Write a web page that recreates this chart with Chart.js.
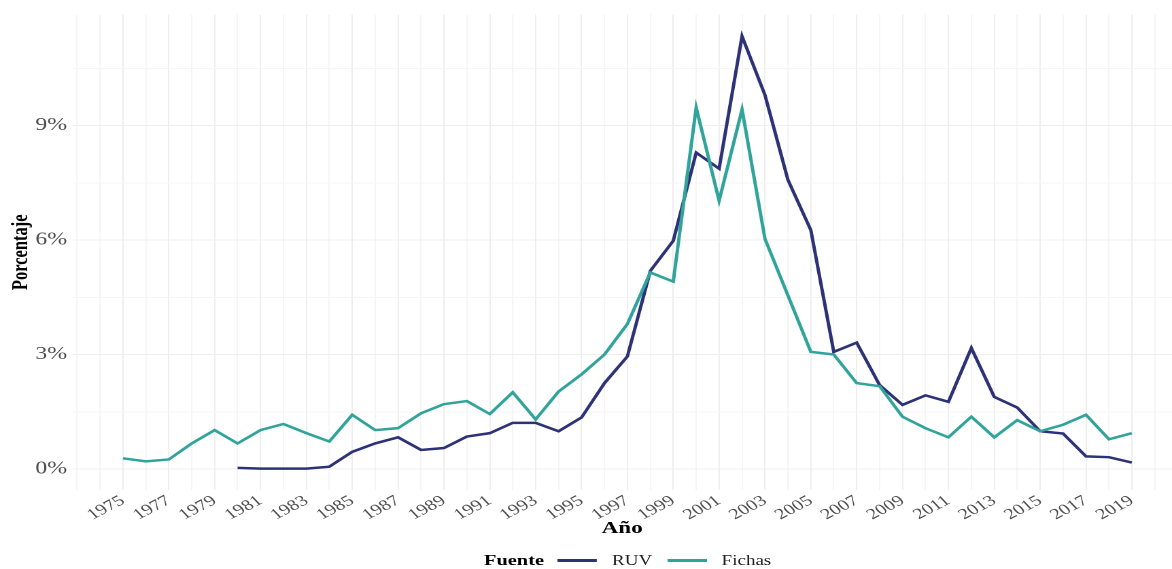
<!DOCTYPE html>
<html lang="es">
<head>
<meta charset="utf-8">
<title>Porcentaje por año</title>
<script src="https://cdn.jsdelivr.net/npm/chart.js@4.4.1/dist/chart.umd.min.js"></script>
<style>
  html, body { margin: 0; padding: 0; background: #fff; overflow: hidden; }
  /* the reference is wider than tall in its text, so the chart is drawn narrow and stretched */
  #wrap { position: relative; width: 862px; height: 569px; transform: scaleX(1.3596); transform-origin: 0 0; }
  #leyenda { position: absolute; left: 356px; top: 552px; display: flex; align-items: center;
             font-family: "Liberation Serif", serif; font-size: 14px; color: #222; white-space: nowrap; }
  #leyenda b { font-size: 15px; color: #000; margin-right: 10px; }
  #leyenda .key { display: inline-block; width: 29px; height: 3px; margin-right: 11px; }
  #leyenda .lab { margin-right: 11px; }
</style>
</head>
<body>
<div id="wrap">
  <canvas id="grafico" width="862" height="569"></canvas>
  <div id="leyenda">
    <b>Fuente</b>
    <span class="key" style="background:#2d3175"></span><span class="lab">RUV</span>
    <span class="key" style="background:#30a39b"></span><span class="lab">Fichas</span>
  </div>
</div>
<script>
// --- DATOS ---
const years = [1975, 1976, 1977, 1978, 1979, 1980, 1981, 1982, 1983, 1984,
               1985, 1986, 1987, 1988, 1989, 1990, 1991, 1992, 1993, 1994,
               1995, 1996, 1997, 1998, 1999, 2000, 2001, 2002, 2003, 2004,
               2005, 2006, 2007, 2008, 2009, 2010, 2011, 2012, 2013, 2014,
               2015, 2016, 2017, 2018, 2019];

const ruv = [null, null, null, null, null, 0.03, 0.01, 0.01, 0.01, 0.06,
             0.45, 0.67, 0.83, 0.50, 0.55, 0.85, 0.94, 1.21, 1.21, 0.99,
             1.35, 2.25, 2.95, 5.19, 5.98, 8.29, 7.87, 11.34, 9.80, 7.58,
             6.26, 3.07, 3.31, 2.20, 1.68, 1.93, 1.76, 3.17, 1.89, 1.61,
             0.99, 0.93, 0.33, 0.31, 0.17];

const fichas = [0.28, 0.20, 0.25, 0.67, 1.02, 0.67, 1.02, 1.18, 0.94, 0.72,
                1.42, 1.02, 1.07, 1.46, 1.70, 1.78, 1.44, 2.01, 1.30, 2.03,
                2.48, 3.00, 3.80, 5.15, 4.91, 9.47, 7.03, 9.42, 6.03, 4.55,
                3.07, 3.00, 2.25, 2.17, 1.37, 1.07, 0.83, 1.37, 0.83, 1.28,
                0.99, 1.16, 1.42, 0.78, 0.94];

const xTickLabels = ['1975', '1977', '1979', '1981', '1983', '1985', '1987', '1989', '1991', '1993',
                     '1995', '1997', '1999', '2001', '2003', '2005', '2007', '2009', '2011', '2013',
                     '2015', '2017', '2019'];
const yTickValues = [0, 3, 6, 9];

const SERIF = '"Liberation Serif", "Times New Roman", serif';

function puntos(serie) {
    return years.map((y, i) => ({ x: y, y: serie[i] }));
}

// grid de ggplot: líneas mayores y menores
function gridX(ctx) {
    if (!ctx.tick) return '#eeeeee';
    return xTickLabels.includes(String(ctx.tick.value)) ? '#eeeeee' : '#f5f5f5';
}
function gridY(ctx) {
    if (!ctx.tick) return '#eeeeee';
    return yTickValues.includes(ctx.tick.value) ? '#eeeeee' : '#f5f5f5';
}

new Chart(document.getElementById('grafico').getContext('2d'), {
    type: 'line',
    data: {
        datasets: [
            { label: 'RUV', data: puntos(ruv), borderColor: '#2d3175', borderWidth: 2.5, order: 1 },
            { label: 'Fichas', data: puntos(fichas), borderColor: '#30a39b', borderWidth: 2.5, order: 0 }
        ]
    },
    options: {
        responsive: false,
        animation: false,
        devicePixelRatio: 2,
        layout: { padding: { top: 11, right: 0, bottom: 28, left: 0 } },
        elements: {
            point: { radius: 0 },
            line: { tension: 0 }
        },
        plugins: {
            legend: { display: false },
            tooltip: { enabled: false }
        },
        scales: {
            x: {
                type: 'linear',
                min: 1972.8,
                max: 2020.75,
                border: { display: false },
                grid: { color: gridX, lineWidth: 1, drawTicks: false },
                afterBuildTicks: (scale) => {
                    const t = [];
                    for (let y = 1973; y <= 2020; y++) t.push({ value: y });
                    scale.ticks = t;
                },
                afterFit: (scale) => { scale.height = 51; },
                ticks: {
                    autoSkip: false,
                    minRotation: 35,
                    maxRotation: 35,
                    padding: 2,
                    color: '#4d4d4d',
                    font: { family: SERIF, size: 15 },
                    callback: (v) => xTickLabels.includes(String(v)) ? String(v) : ''
                },
                title: {
                    display: true,
                    text: 'Año',
                    color: '#000',
                    padding: { top: 0, bottom: 2 },
                    font: { family: SERIF, size: 17, weight: 'bold', lineHeight: 1.2 }
                }
            },
            y: {
                min: -0.55,
                max: 11.91,
                border: { display: false },
                grid: { color: gridY, lineWidth: 1, drawTicks: false },
                afterBuildTicks: (scale) => {
                    scale.ticks = [0, 1.5, 3, 4.5, 6, 7.5, 9, 10.5].map(v => ({ value: v }));
                },
                afterFit: (scale) => { scale.width = 53.3; },
                ticks: {
                    padding: 4,
                    color: '#4d4d4d',
                    font: { family: SERIF, size: 17.5 },
                    callback: (v) => yTickValues.includes(v) ? v + '%' : ''
                },
                title: {
                    display: true,
                    text: 'Porcentaje',
                    color: '#000',
                    padding: { top: 6, bottom: 0 },
                    font: { family: SERIF, size: 16.5, weight: 'bold', lineHeight: 1.2 }
                }
            }
        }
    }
});
</script>
</body>
</html>
